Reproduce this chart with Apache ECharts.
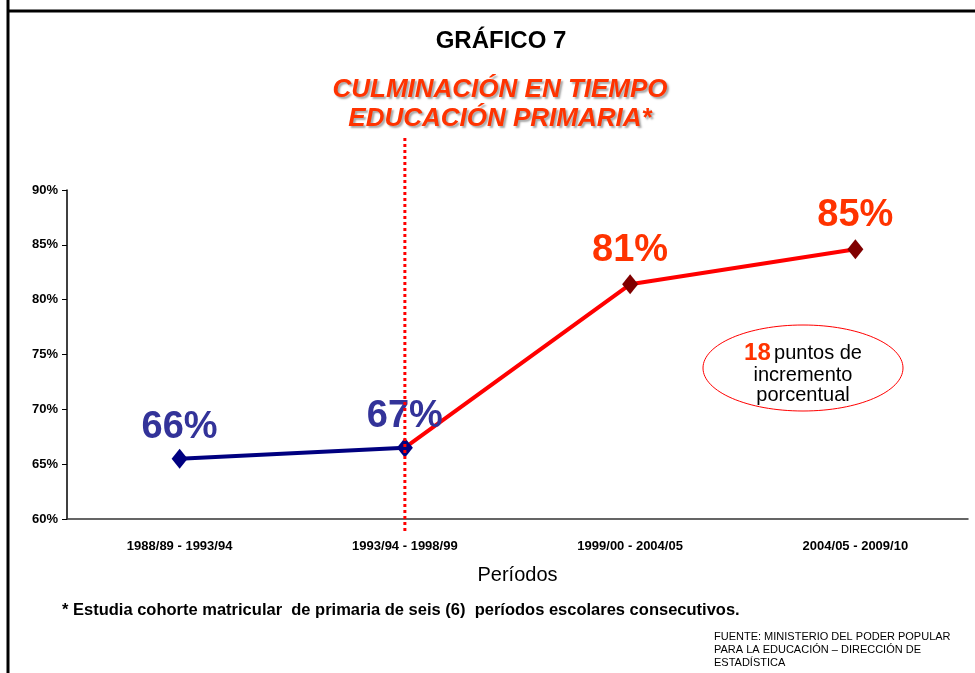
<!DOCTYPE html>
<html>
<head>
<meta charset="utf-8">
<script src="https://cdn.jsdelivr.net/npm/echarts@6/dist/echarts.min.js"></script>
<style>
html,body{margin:0;padding:0;background:#fff;}
#chart{width:975px;height:673px;}
</style>
</head>
<body>
<div id="chart"></div>
<script>
// datos del grafico
var periodos = ['1988/89 - 1993/94', '1993/94 - 1998/99', '1999/00 - 2004/05', '2004/05 - 2009/10'];
var serieAntes = [65.5, 66.5, '-', '-'];
var serieDespues = ['-', 66.5, 81.4, 84.6];
var etiquetasAntes = ['66%', '67%', '', ''];
var etiquetasDespues = ['', '', '81%', '85%'];
var ejeY = {min: 60, max: 90, interval: 5};

var arial = '"Liberation Sans", Arial, sans-serif';

var chart = echarts.init(document.getElementById('chart'));

var option = {
    backgroundColor: '#fff',
    animation: false,
    title: [
        {
            text: 'GRÁFICO 7',
            left: 496, top: 24, textAlign: 'center',
            textStyle: {fontFamily: arial, fontWeight: 'bold', fontSize: 24, color: '#000'}
        },
        {
            text: 'CULMINACIÓN EN TIEMPO\nEDUCACIÓN PRIMARIA*',
            left: 495, top: 70, textAlign: 'center',
            textStyle: {
                fontFamily: arial, fontWeight: 'bold', fontStyle: 'italic', fontSize: 26,
                lineHeight: 29, color: '#FF3300',
                textShadowColor: 'rgba(0,0,0,0.35)', textShadowBlur: 2,
                textShadowOffsetX: 2, textShadowOffsetY: 2
            }
        }
    ],
    grid: {left: 67, right: 7, top: 190, bottom: 154},
    xAxis: {
        type: 'category',
        data: periodos,
        boundaryGap: true,
        name: 'Períodos',
        nameLocation: 'middle',
        nameGap: 46,
        nameTextStyle: {fontFamily: arial, fontSize: 20, color: '#000'},
        axisLine: {lineStyle: {color: '#333', width: 1.5}},
        axisTick: {length: 4, lineStyle: {color: '#333'}},
        axisLabel: {margin: 21, fontFamily: arial, fontWeight: 'bold', fontSize: 13, color: '#000'}
    },
    yAxis: {
        type: 'value',
        min: ejeY.min, max: ejeY.max, interval: ejeY.interval,
        axisLine: {show: true, lineStyle: {color: '#000', width: 1.5}},
        axisTick: {show: true, length: 5, lineStyle: {color: '#000'}},
        axisLabel: {formatter: '{value}%', margin: 9, fontFamily: arial, fontWeight: 'bold', fontSize: 13, color: '#000'},
        splitLine: {show: false}
    },
    series: [
        {
            name: 'despues',
            type: 'line',
            data: serieDespues.map(function (v, i) {
                return i == 1 ? {value: v, symbol: 'none'} : v;
            }),
            symbol: 'diamond',
            symbolSize: [16, 20],
            lineStyle: {color: '#FF0000', width: 4},
            itemStyle: {color: '#800000'},
            label: {
                show: true, position: 'top', distance: 5,
                formatter: function (p) { return etiquetasDespues[p.dataIndex]; },
                fontFamily: arial, fontWeight: 'bold', fontSize: 38, color: '#FF3300'
            },
            z: 2
        },
        {
            name: 'antes',
            type: 'line',
            data: serieAntes,
            symbol: 'diamond',
            symbolSize: [16, 20],
            lineStyle: {color: '#000080', width: 4},
            itemStyle: {color: '#000080'},
            label: {
                show: true, position: 'top', distance: 2,
                formatter: function (p) { return etiquetasAntes[p.dataIndex]; },
                fontFamily: arial, fontWeight: 'bold', fontSize: 38, color: '#333399'
            },
            z: 3
        }
    ]
};
chart.setOption(option);

// linea punteada vertical y anotaciones
var xCorte = chart.convertToPixel({xAxisIndex: 0}, periodos[1]);
chart.setOption({
    graphic: [
        {type: 'line', shape: {x1: 8, y1: 0, x2: 8, y2: 673}, style: {stroke: '#000', lineWidth: 3}},
        {type: 'line', shape: {x1: 8, y1: 11, x2: 975, y2: 11}, style: {stroke: '#000', lineWidth: 3}},
        {type: 'line', z: 10, shape: {x1: xCorte, y1: 138, x2: xCorte, y2: 533},
            style: {stroke: '#FF0000', lineWidth: 3, lineDash: [3, 3]}},
        {type: 'ellipse', shape: {cx: 803, cy: 368, rx: 100, ry: 43},
            style: {fill: '#fff', stroke: '#FF0000', lineWidth: 1}},
        {type: 'text', x: 803, y: 353, style: {
            text: '{a|18} {b|puntos de}', align: 'center', verticalAlign: 'middle',
            rich: {
                a: {fontFamily: arial, fontWeight: 'bold', fontSize: 24, fill: '#FF3300'},
                b: {fontFamily: arial, fontSize: 20, fill: '#000'}
            }
        }},
        {type: 'text', x: 803, y: 385, style: {
            text: 'incremento\nporcentual', align: 'center', verticalAlign: 'middle',
            font: '20px ' + arial, lineHeight: 20, fill: '#000'
        }},
        {type: 'text', x: 62, y: 610, style: {
            text: '* Estudia cohorte matricular  de primaria de seis (6)  períodos escolares consecutivos.',
            verticalAlign: 'middle', font: 'bold 16.5px ' + arial, fill: '#000'
        }},
        {type: 'text', x: 714, y: 650, style: {
            text: 'FUENTE: MINISTERIO DEL PODER POPULAR\nPARA LA EDUCACIÓN – DIRECCIÓN DE\nESTADÍSTICA',
            verticalAlign: 'middle', font: '11px ' + arial, lineHeight: 13, fill: '#000'
        }}
    ]
});
</script>
</body>
</html>
